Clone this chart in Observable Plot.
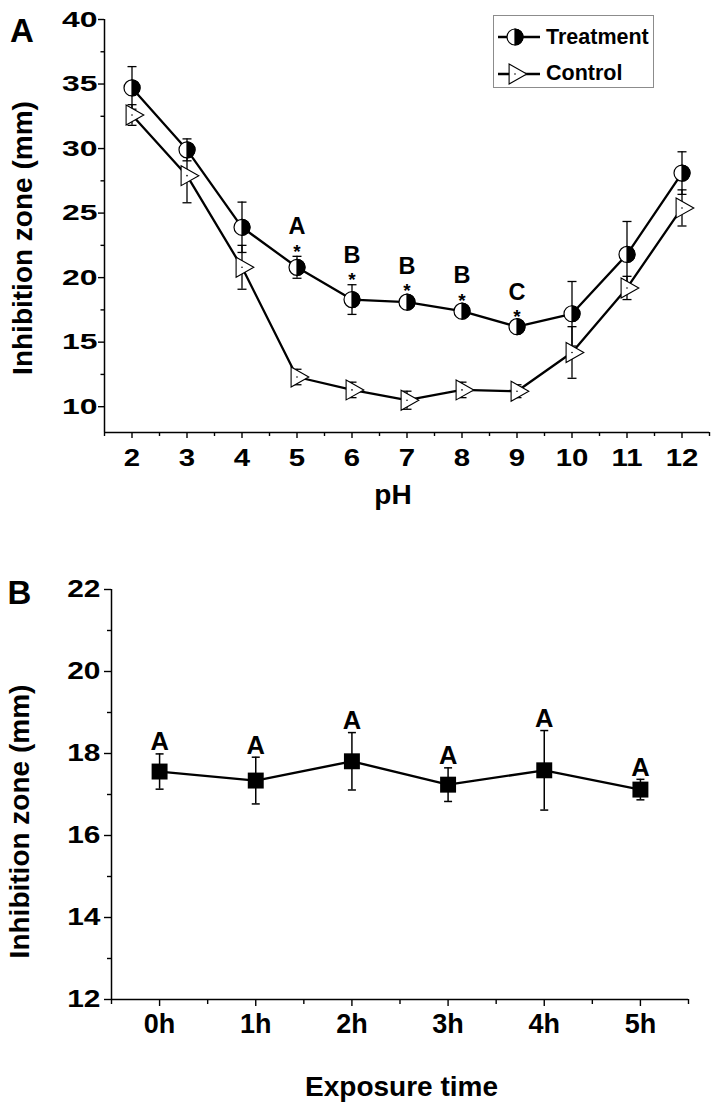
<!DOCTYPE html>
<html>
<head>
<meta charset="utf-8">
<script src="https://cdn.jsdelivr.net/npm/d3@7"></script>
<script src="https://cdn.jsdelivr.net/npm/@observablehq/plot@0.6"></script>
<style>
  body { margin: 0; background: #fff; }
  #wrap { position: relative; width: 716px; height: 1106px; overflow: hidden; background: #fff;
          font-family: "Liberation Sans", Arial, sans-serif; }
  #wrap svg { display: block; }
  #panelA { position: absolute; left: 0; top: 0; }
  #panelB { position: absolute; left: 0; top: 530px; }
  #legend { position: absolute; left: 493px; top: 15px; width: 161px; height: 73px; box-sizing: border-box;
            border: 1px solid #8c8c8c; background: #fff; }
  #legend .row { position: absolute; left: 0; height: 24px; display: flex; align-items: center; }
  #legend .row span { font-weight: bold; font-size: 21.5px; color: #000; margin-left: 2px; }
</style>
</head>
<body>
<div id="wrap">
  <div id="panelA"></div>
  <div id="panelB"></div>
  <div id="legend"></div>
</div>
<script>
// ---------- Panel A data ----------
const pH = [2, 3, 4, 5, 6, 7, 8, 9, 10, 11, 12];
const treatment    = [34.7, 29.9, 23.9, 20.8, 18.3, 18.1, 17.4, 16.2, 17.2, 21.8, 28.1];
const treatmentErr = [1.65, 0.85, 1.95, 0.85, 1.15, 0.5, 0.45, 0.4, 2.5, 2.55, 1.65];
const control      = [32.6, 27.9, 20.8, 12.3, 11.3, 10.5, 11.3, 11.2, 14.2, 19.2, 25.4];
const controlErr   = [0.8, 2.1, 1.7, 0.6, 0.6, 0.7, 0.6, 0.5, 2.0, 0.9, 1.4];
const sigLetters   = ["", "", "", "A", "B", "B", "B", "C", "", "", ""];
const sigStars     = ["", "", "", "*", "*", "*", "*", "*", "", "", ""];
const seriesNames  = ["Treatment", "Control"];
const pHTicks      = [2, 3, 4, 5, 6, 7, 8, 9, 10, 11, 12];
const pHMinorTicks = [1.5, 2.5, 3.5, 4.5, 5.5, 6.5, 7.5, 8.5, 9.5, 10.5, 11.5, 12.5];
const yTicksA      = [10, 15, 20, 25, 30, 35, 40];
const yMinorA      = [12.5, 17.5, 22.5, 27.5, 32.5, 37.5];
const xDomainA     = [1.5, 12.5];
const yDomainA     = [8, 40];
const xTitleA      = "pH";
const yTitle       = "Inhibition zone (mm)";

// ---------- Panel B data ----------
const hours        = [0, 1, 2, 3, 4, 5];
const hourLabels   = ["0h", "1h", "2h", "3h", "4h", "5h"];
const exposure     = [17.56, 17.34, 17.81, 17.24, 17.59, 17.12];
const exposureErr  = [0.43, 0.57, 0.7, 0.41, 0.97, 0.25];
const exposureSig  = ["A", "A", "A", "A", "A", "A"];
const hourMinor    = [-0.5, 0.5, 1.5, 2.5, 3.5, 4.5, 5.5];
const yTicksB      = [12, 14, 16, 18, 20, 22];
const yMinorB      = [13, 15, 17, 19, 21];
const xDomainB     = [-0.5, 5.5];
const yDomainB     = [12, 22];
const xTitleB      = "Exposure time";
const panelLetters = ["A", "B"];

const FONT = "'Liberation Sans', Arial, Helvetica, sans-serif";

// ---------- custom symbols ----------
const halfRight = { draw(ctx, size) { const r = Math.sqrt(size / Math.PI);
  ctx.moveTo(0, -r); ctx.arc(0, 0, r, -Math.PI / 2, Math.PI / 2); ctx.closePath(); } };
const triRight = { draw(ctx, size) { const r = Math.sqrt(size / Math.PI);
  ctx.moveTo(-0.59 * r, -r); ctx.lineTo(1.18 * r, 0); ctx.lineTo(-0.59 * r, r); ctx.closePath(); } };
const cap = { draw(ctx, size) { const r = Math.sqrt(size / Math.PI);
  ctx.moveTo(-r, 0); ctx.lineTo(r, 0); } };

function stretchTicks(svg, label, s) {
  svg.querySelectorAll(`g[aria-label="${label}"] text`).forEach(t => {
    t.setAttribute("transform", (t.getAttribute("transform") || "") + ` scale(${s},1)`);
  });
}

// ---------- Panel A ----------
const rowsA = pH.map((p, i) => ({
  pH: p, t: treatment[i], te: treatmentErr[i], c: control[i], ce: controlErr[i],
  letter: sigLetters[i], star: sigStars[i]
}));

const errMarks = (key, errKey) => [
  Plot.ruleX(rowsA, { x: "pH", y1: d => d[key] - d[errKey], y2: d => d[key] + d[errKey], stroke: "black", strokeWidth: 1.3 }),
  Plot.dot(rowsA, { x: "pH", y: d => d[key] - d[errKey], symbol: cap, r: 4.5, fill: "none", stroke: "black", strokeWidth: 1.3 }),
  Plot.dot(rowsA, { x: "pH", y: d => d[key] + d[errKey], symbol: cap, r: 4.5, fill: "none", stroke: "black", strokeWidth: 1.3 })
];

const plotA = Plot.plot({
  width: 716, height: 530,
  marginTop: 19, marginBottom: 98, marginLeft: 104, marginRight: 7,
  x: { domain: xDomainA },
  y: { domain: yDomainA },
  style: { fontFamily: FONT, background: "transparent", color: "black" },
  marks: [
    Plot.ruleX([xDomainA[0]], { stroke: "black", strokeWidth: 1.5 }),
    Plot.ruleY([yDomainA[0]], { stroke: "black", strokeWidth: 1.5 }),
    Plot.axisY({ ticks: yTicksA, tickSize: 6, tickPadding: 1, strokeWidth: 1.4, fontSize: 22, fontWeight: "bold", fontFamily: FONT, label: null }),
    Plot.axisY({ ticks: yMinorA, tickSize: 3.5, strokeWidth: 1.4, text: null, label: null }),
    Plot.axisX({ ticks: pHTicks, tickSize: 6, tickPadding: 11, strokeWidth: 1.4, fontSize: 23.5, fontWeight: "bold", fontFamily: FONT, label: null }),
    Plot.axisX({ ticks: pHMinorTicks, tickSize: 4, strokeWidth: 1.4, text: null, label: null }),
    Plot.text([xTitleA], { text: d => d, frameAnchor: "bottom", textAnchor: "middle", lineAnchor: "bottom", dx: -14, dy: 71, fontSize: 28, fontWeight: "bold" }),
    Plot.text([yTitle], { text: d => d, frameAnchor: "left", textAnchor: "middle", lineAnchor: "bottom", rotate: -90, dx: -73, dy: 12, fontSize: 28, fontWeight: "bold" }),
    Plot.text([panelLetters[0]], { text: d => d, frameAnchor: "top-left", lineAnchor: "bottom", textAnchor: "middle", dx: 21.5 - 104, dy: 41.7 - 19, fontSize: 33, fontWeight: "bold" }),
    Plot.line(rowsA, { x: "pH", y: "c", stroke: "black", strokeWidth: 2.3 }),
    Plot.line(rowsA, { x: "pH", y: "t", stroke: "black", strokeWidth: 2.3 }),
    ...errMarks("t", "te"),
    ...errMarks("c", "ce"),
    Plot.dot(rowsA, { x: "pH", y: "c", symbol: triRight, r: 10, fill: "white", stroke: "black", strokeWidth: 1.1 }),
    Plot.dot(rowsA, { x: "pH", y: "c", r: 0.8, fill: "black", stroke: "none" }),
    Plot.dot(rowsA, { x: "pH", y: "t", r: 8, fill: "white", stroke: "black", strokeWidth: 1.2 }),
    Plot.dot(rowsA, { x: "pH", y: "t", symbol: halfRight, r: 8, fill: "black", stroke: "black", strokeWidth: 1.2 }),
    Plot.text(rowsA, { x: "pH", y: d => d.t + d.te, text: "letter", lineAnchor: "bottom", dy: -22, fontSize: 23.5, fontWeight: "bold" }),
    Plot.text(rowsA, { x: "pH", y: d => d.t + d.te, text: "star", lineAnchor: "bottom", dy: 1.5, fontSize: 19, fontWeight: "bold" })
  ]
});
stretchTicks(plotA, "y-axis tick label", 1.45);
stretchTicks(plotA, "x-axis tick label", 1.25);
document.getElementById("panelA").appendChild(plotA);

// ---------- Panel B ----------
const rowsB = hours.map((h, i) => ({ h, v: exposure[i], e: exposureErr[i], sig: exposureSig[i] }));

const plotB = Plot.plot({
  width: 716, height: 576,
  marginTop: 59, marginBottom: 107, marginLeft: 111, marginRight: 28,
  x: { domain: xDomainB },
  y: { domain: yDomainB },
  style: { fontFamily: FONT, background: "transparent", color: "black" },
  marks: [
    Plot.ruleX([xDomainB[0]], { stroke: "black", strokeWidth: 1.5 }),
    Plot.ruleY([yDomainB[0]], { stroke: "black", strokeWidth: 1.5 }),
    Plot.axisY({ ticks: yTicksB, tickSize: 7, tickPadding: 4, strokeWidth: 1.4, fontSize: 23, fontWeight: "bold", fontFamily: FONT, label: null }),
    Plot.axisY({ ticks: yMinorB, tickSize: 4, strokeWidth: 1.4, text: null, label: null }),
    Plot.axisX({ ticks: hours, tickFormat: i => hourLabels[i], tickSize: 7, tickPadding: 7.5, strokeWidth: 1.4, fontSize: 27, fontWeight: "bold", fontFamily: FONT, label: null }),
    Plot.axisX({ ticks: hourMinor, tickSize: 5, strokeWidth: 1.4, text: null, label: null }),
    Plot.text([xTitleB], { text: d => d, frameAnchor: "bottom", textAnchor: "middle", lineAnchor: "bottom", dx: 1.5, dy: 96, fontSize: 28, fontWeight: "bold" }),
    Plot.text([yTitle], { text: d => d, frameAnchor: "left", textAnchor: "middle", lineAnchor: "bottom", rotate: -90, dx: -82.5, dy: 27, fontSize: 28, fontWeight: "bold" }),
    Plot.text([panelLetters[1]], { text: d => d, frameAnchor: "top-left", lineAnchor: "bottom", textAnchor: "middle", dx: 19 - 111, dy: 603 - 589, fontSize: 33, fontWeight: "bold" }),
    Plot.line(rowsB, { x: "h", y: "v", stroke: "black", strokeWidth: 2.3 }),
    Plot.ruleX(rowsB, { x: "h", y1: d => d.v - d.e, y2: d => d.v + d.e, stroke: "black", strokeWidth: 1.5 }),
    Plot.dot(rowsB, { x: "h", y: d => d.v - d.e, symbol: cap, r: 4, fill: "none", stroke: "black", strokeWidth: 1.5 }),
    Plot.dot(rowsB, { x: "h", y: d => d.v + d.e, symbol: cap, r: 4, fill: "none", stroke: "black", strokeWidth: 1.5 }),
    Plot.dot(rowsB, { x: "h", y: "v", symbol: "square", r: 9, fill: "black", stroke: "none" }),
    Plot.text(rowsB, { x: "h", y: d => d.v + d.e, text: "sig", lineAnchor: "bottom", dy: -3.5, fontSize: 25.5, fontWeight: "bold" })
  ]
});
stretchTicks(plotB, "y-axis tick label", 1.3);
document.getElementById("panelB").appendChild(plotB);

// ---------- Legend ----------
const legend = document.getElementById("legend");
const symbolPath = (type, r) => d3.symbol(type, r * r * Math.PI)();
const swatches = [
  { name: seriesNames[0], top: 9, draw: g => {
      g.append("circle").attr("cx", 21).attr("cy", 12).attr("r", 8).attr("fill", "white").attr("stroke", "black").attr("stroke-width", 1.2);
      g.append("path").attr("transform", "translate(21,12)").attr("d", symbolPath(halfRight, 8)).attr("fill", "black").attr("stroke", "black").attr("stroke-width", 1.2);
    } },
  { name: seriesNames[1], top: 45.7, draw: g => {
      g.append("path").attr("transform", "translate(21,12)").attr("d", symbolPath(triRight, 10)).attr("fill", "white").attr("stroke", "black").attr("stroke-width", 1.1);
      g.append("circle").attr("cx", 21).attr("cy", 12).attr("r", 0.8).attr("fill", "black");
    } }
];
swatches.forEach(s => {
  const row = document.createElement("div");
  row.className = "row";
  row.style.top = s.top + "px";
  const svg = d3.create("svg").attr("width", 50).attr("height", 24).style("overflow", "visible");
  svg.append("line").attr("x1", 4).attr("x2", 46).attr("y1", 12).attr("y2", 12).attr("stroke", "black").attr("stroke-width", 2.3);
  s.draw(svg);
  row.appendChild(svg.node());
  const span = document.createElement("span");
  span.textContent = s.name;
  row.appendChild(span);
  legend.appendChild(row);
});
</script>
</body>
</html>
